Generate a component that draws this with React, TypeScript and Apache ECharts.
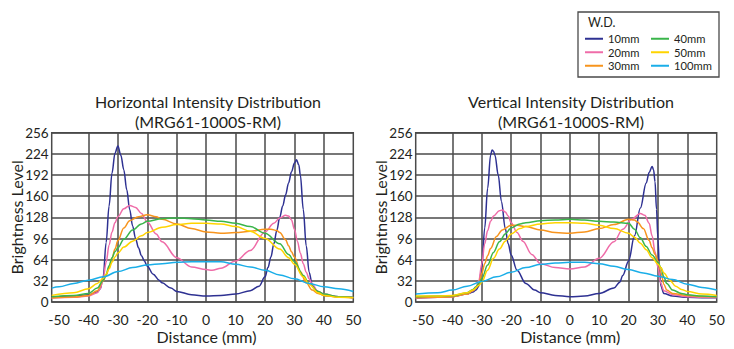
import { useEffect, useRef } from 'react';
import * as echarts from 'echarts';

const FONT = 'Lato, "Open Sans", sans-serif';
const TEXT_COLOR = '#231f20';
const GRID_COLOR = '#4a4a4a';

const X_TICKS = [-50, -40, -30, -20, -10, 0, 10, 20, 30, 40, 50];
const X_GRID = [-40, -30, -20, -10, 0, 10, 20, 30, 40];
const X_MIN = -52.5;
const X_MAX = 50;
const Y_MIN = 0;
const Y_MAX = 256;
const Y_STEP = 32;

const SERIES_NAMES = ['10mm', '20mm', '30mm', '40mm', '50mm', '100mm'];
const SERIES_COLORS = ['#2e3192', '#ef6ca8', '#f7941d', '#3ab54a', '#ffd400', '#1aaee8'];

const CHART_TITLES = [
  'Horizontal Intensity Distribution\n(MRG61-1000S-RM)',
  'Vertical Intensity Distribution\n(MRG61-1000S-RM)',
];

// Horizontal chart (left)
const H_10MM: [number, number][] = [
  [-52.5, 7], [-45, 9], [-40, 11], [-37, 15], [-36, 20], [-35, 38], [-34, 90], [-33, 145], [-32, 195],
  [-31, 225], [-30, 236], [-29, 222], [-28, 200], [-27, 170], [-26, 140], [-25, 115], [-24, 96],
  [-23, 82], [-22, 70], [-21, 62], [-20, 54], [-18, 42], [-16, 33], [-15, 29], [-12, 21], [-10, 16],
  [-5, 11], [0, 9], [5, 10], [10, 12], [15, 17], [18, 24], [20, 38], [21, 52], [22, 68], [23, 88],
  [24, 108], [25, 128], [26, 145], [27, 162], [28, 180], [29, 197], [30, 210], [30.7, 215],
  [31.5, 207], [32, 192], [33, 140], [34, 85], [35, 45], [36, 27], [37, 18], [40, 10], [45, 8], [50, 6.5],
];
const H_20MM: [number, number][] = [
  [-52.5, 6], [-45, 7], [-40, 9], [-37, 14], [-36, 20], [-35, 36], [-34, 60], [-33, 86], [-32, 106],
  [-31, 120], [-30, 129], [-28, 141], [-26, 146], [-24, 143], [-22, 134], [-20, 121], [-17, 103],
  [-15, 91], [-10, 67], [-5, 53], [0, 49], [2, 48], [5, 51], [10, 62], [15, 78], [20, 106], [23, 119],
  [25, 127], [27, 131], [28, 130], [29, 124], [30, 110], [31, 92], [32, 74], [33, 58], [34, 45],
  [35, 35], [36, 27], [38, 16], [40, 12], [45, 8], [50, 7],
];
const H_30MM: [number, number][] = [
  [-52.5, 6], [-45, 7.5], [-40, 10], [-37, 17], [-35, 32], [-34, 40], [-33, 52], [-32, 66], [-31, 80],
  [-30, 93], [-28, 112], [-26, 123], [-23, 129], [-20, 132], [-17, 129], [-15, 125], [-10, 118],
  [-5, 111], [0, 106], [5, 104], [10, 105], [15, 107], [20, 110], [22, 110], [24, 108], [25, 105],
  [27, 94], [28, 85], [29, 76], [30, 68], [32, 46], [34, 29], [36, 18], [38, 13], [40, 10], [45, 7.5],
  [50, 6.5],
];
const H_40MM: [number, number][] = [
  [-52.5, 8], [-45, 10], [-40, 13], [-37, 21], [-35, 33], [-34, 42], [-33, 55], [-32, 67], [-31, 76],
  [-30, 82], [-28, 95], [-25, 109], [-22, 118], [-20, 122], [-15, 126], [-10, 127], [-5, 126],
  [0, 124], [5, 122], [10, 119], [15, 114], [20, 104], [25, 88], [28, 72], [30, 61], [33, 40],
  [35, 28], [38, 16], [40, 12], [45, 8], [50, 7],
];
const H_50MM: [number, number][] = [
  [-52.5, 10], [-45, 14], [-40, 20], [-37, 28], [-35, 36], [-34, 42], [-33, 50], [-32, 60], [-31, 68],
  [-30, 74], [-28, 83], [-25, 92], [-22, 100], [-20, 105], [-15, 113], [-10, 117], [-5, 119],
  [0, 119], [5, 118], [10, 114], [15, 107], [20, 96], [25, 80], [28, 67], [30, 57], [33, 38],
  [35, 27], [38, 14], [40, 10], [45, 7], [50, 6.5],
];
const H_100MM: [number, number][] = [
  [-52.5, 21], [-50, 23], [-45, 28], [-40, 33], [-35, 38], [-30, 46], [-25, 52], [-20, 56], [-15, 58],
  [-10, 60], [-5, 61], [0, 61], [5, 61], [10, 57], [15, 53], [20, 48], [25, 41], [30, 35],
  [35, 28], [40, 23], [45, 20], [50, 16],
];

// Vertical chart (right)
const V_10MM: [number, number][] = [
  [-52.5, 5.5], [-45, 7], [-40, 8], [-35, 12], [-33, 15], [-32, 18], [-31, 24], [-30, 52], [-29, 112],
  [-28, 172], [-27, 222], [-26.5, 230], [-26, 228], [-25.5, 222], [-24.4, 192], [-23.3, 152],
  [-22, 111], [-21, 88], [-20, 71], [-18, 48], [-15, 28], [-12, 18], [-10, 14], [-5, 10], [0, 8],
  [5, 9], [10, 13], [15, 21], [17, 30], [18, 40], [20, 62], [22, 100], [24, 142], [26, 180],
  [27, 196], [28, 205], [28.5, 200], [29, 182], [29.5, 140], [30, 95], [30.5, 50], [31, 24],
  [32, 13], [35, 9], [40, 7], [45, 6.5], [50, 6.5],
];
const V_20MM: [number, number][] = [
  [-52.5, 6], [-45, 7], [-40, 8], [-35, 12], [-33, 17], [-32, 22], [-31, 32], [-30, 58], [-29, 88],
  [-28, 108], [-27, 122], [-26, 130], [-24, 138], [-23, 139], [-22, 136], [-21, 130], [-20, 120],
  [-18, 105], [-16, 92], [-13, 72], [-10, 58], [-5, 52], [0, 50], [5, 53], [10, 66], [15, 91],
  [18, 110], [21, 125], [24, 134], [25.5, 131], [27, 119], [28, 100], [29, 76], [30, 52], [31, 28],
  [32, 17], [35, 11], [40, 8], [45, 7], [50, 6.5],
];
const V_30MM: [number, number][] = [
  [-52.5, 6.5], [-45, 7], [-40, 8], [-35, 12], [-33, 17], [-32, 21], [-31, 27], [-30, 43], [-29, 58],
  [-28, 70], [-27, 81], [-25, 99], [-23, 109], [-20, 116], [-18, 116], [-15, 114], [-10, 109],
  [-5, 105], [0, 104], [5, 106], [10, 111], [15, 117], [20, 125], [22, 124], [23, 121], [25, 111],
  [27, 93], [28, 82], [29, 72], [30, 62], [31, 45], [32, 27], [33, 18], [35, 13], [40, 10], [45, 8.5],
  [50, 8],
];
const V_40MM: [number, number][] = [
  [-52.5, 8], [-45, 9], [-40, 9.5], [-35, 14], [-33, 19], [-32, 23], [-31, 28], [-30, 35], [-28, 56],
  [-26, 75], [-24, 91], [-22, 103], [-20, 112], [-17, 118], [-15, 120], [-10, 123], [-5, 124],
  [0, 125], [5, 124], [10, 122], [15, 121], [20, 119], [22, 110], [24, 97], [26, 84], [28, 71],
  [30, 60], [31, 52], [32, 38], [33, 28], [35, 18], [38, 13], [40, 11], [45, 9], [50, 8],
];
const V_50MM: [number, number][] = [
  [-52.5, 9], [-45, 9], [-40, 10], [-35, 14], [-33, 18], [-31, 25], [-30, 30], [-28, 48], [-26, 66],
  [-24, 80], [-22, 92], [-20, 103], [-17, 111], [-15, 114], [-10, 118], [-5, 120], [0, 120],
  [5, 119], [10, 116], [15, 111], [20, 104], [22, 98], [24, 89], [26, 79], [28, 67], [30, 57],
  [31, 52], [32, 44], [34, 33], [36, 24], [38, 19], [40, 16], [45, 12], [50, 10],
];
const V_100MM: [number, number][] = [
  [-52.5, 12], [-45, 14], [-40, 18], [-35, 24], [-30, 31], [-25, 38], [-20, 45], [-15, 52], [-10, 57],
  [-5, 59], [0, 60], [5, 60], [10, 58], [15, 54], [20, 49], [25, 44], [30, 39], [35, 34], [40, 27],
  [45, 22], [50, 18],
];

const H_SERIES = [H_10MM, H_20MM, H_30MM, H_40MM, H_50MM, H_100MM];
const V_SERIES = [V_10MM, V_20MM, V_30MM, V_40MM, V_50MM, V_100MM];

export default function App() {
  const ref = useRef<HTMLDivElement>(null);

  useEffect(() => {
    if (!ref.current) return;
    const chart = echarts.init(ref.current, null, { renderer: 'svg' });

    const grids = [
      { left: 51.7, width: 301.6, top: 132.7, height: 169.3 },
      { left: 415.7, width: 301, top: 132.7, height: 169.3 },
    ];
    const titleCenters = [208, 571];

    const tickText = { fontSize: 14, color: TEXT_COLOR, fontFamily: FONT };
    const nameText = { fontSize: 16, color: TEXT_COLOR, fontFamily: FONT };

    const series: any[] = [];
    [H_SERIES, V_SERIES].forEach((set, gi) => {
      series.push({
        type: 'line',
        xAxisIndex: gi,
        yAxisIndex: gi,
        data: [],
        silent: true,
        z: 1,
        markLine: {
          silent: true,
          z: 1,
          symbol: ['none', 'none'],
          label: { show: false },
          emphasis: { disabled: true },
          lineStyle: { color: GRID_COLOR, width: 1.5, type: 'solid' },
          data: X_GRID.map((v) => ({ xAxis: v })),
        },
      });
      set.forEach((data, i) => {
        series.push({
          type: 'line',
          name: SERIES_NAMES[i],
          xAxisIndex: gi,
          yAxisIndex: gi,
          data,
          smooth: 0.35,
          smoothMonotone: 'x',
          symbol: 'none',
          silent: true,
          z: 3,
          itemStyle: { color: SERIES_COLORS[i] },
          lineStyle: { color: SERIES_COLORS[i], width: 1.5 },
        });
      });
    });

    const legendCommon = {
      orient: 'vertical',
      top: 32,
      itemWidth: 18,
      itemHeight: 2,
      itemGap: 0,
      icon: 'rect',
      padding: 0,
      selectedMode: false,
      textStyle: { fontSize: 11.2, lineHeight: 13.5, color: TEXT_COLOR, fontFamily: FONT, padding: 0 },
    };

    const option: any = {
      animation: false,
      backgroundColor: '#ffffff',
      title: CHART_TITLES.map((t, i) => ({
        text: t,
        left: titleCenters[i],
        top: 91,
        textAlign: 'center',
        padding: 0,
        textStyle: { fontSize: 16, fontWeight: 'normal', lineHeight: 20, color: TEXT_COLOR, fontFamily: FONT },
      })),
      legend: [
        { ...legendCommon, left: 585, data: SERIES_NAMES.slice(0, 3) },
        { ...legendCommon, left: 651, data: SERIES_NAMES.slice(3) },
      ],
      graphic: [
        {
          type: 'rect',
          shape: { x: 578, y: 12, width: 141, height: 65 },
          style: { fill: 'none', stroke: GRID_COLOR, lineWidth: 1.3 },
          silent: true,
        },
        {
          type: 'text',
          x: 588,
          y: 16,
          style: { text: 'W.D.', fontSize: 12.5, fill: TEXT_COLOR, fontFamily: FONT },
          silent: true,
        },
      ],
      grid: grids.map((g) => ({
        ...g,
        show: true,
        borderColor: GRID_COLOR,
        borderWidth: 1.5,
        backgroundColor: 'transparent',
      })),
      xAxis: grids.map((_, gi) => ({
        type: 'value',
        gridIndex: gi,
        min: X_MIN,
        max: X_MAX,
        name: 'Distance (mm)',
        nameLocation: 'middle',
        nameGap: 26,
        nameTextStyle: { ...nameText, padding: [0, 0, 0, 8] },
        axisLine: { show: false },
        axisTick: { show: false },
        splitLine: { show: false },
        axisLabel: { ...tickText, margin: 10, customValues: X_TICKS },
      })),
      yAxis: grids.map((_, gi) => ({
        type: 'value',
        gridIndex: gi,
        min: Y_MIN,
        max: Y_MAX,
        interval: Y_STEP,
        name: 'Brightness Level',
        nameLocation: 'middle',
        nameGap: 27,
        nameMoveOverlap: false,
        nameTextStyle: nameText,
        axisLine: { show: false },
        axisTick: { show: false },
        splitLine: { show: true, lineStyle: { color: GRID_COLOR, width: 1.5 } },
        axisLabel: { ...tickText, fontSize: 13.5, margin: 3 },
      })),
      series,
    };

    chart.setOption(option);
    return () => chart.dispose();
  }, []);

  return (
    <div
      ref={ref}
      style={{ position: 'fixed', left: 0, top: 0, width: 734, height: 349, background: '#ffffff' }}
    />
  );
}
